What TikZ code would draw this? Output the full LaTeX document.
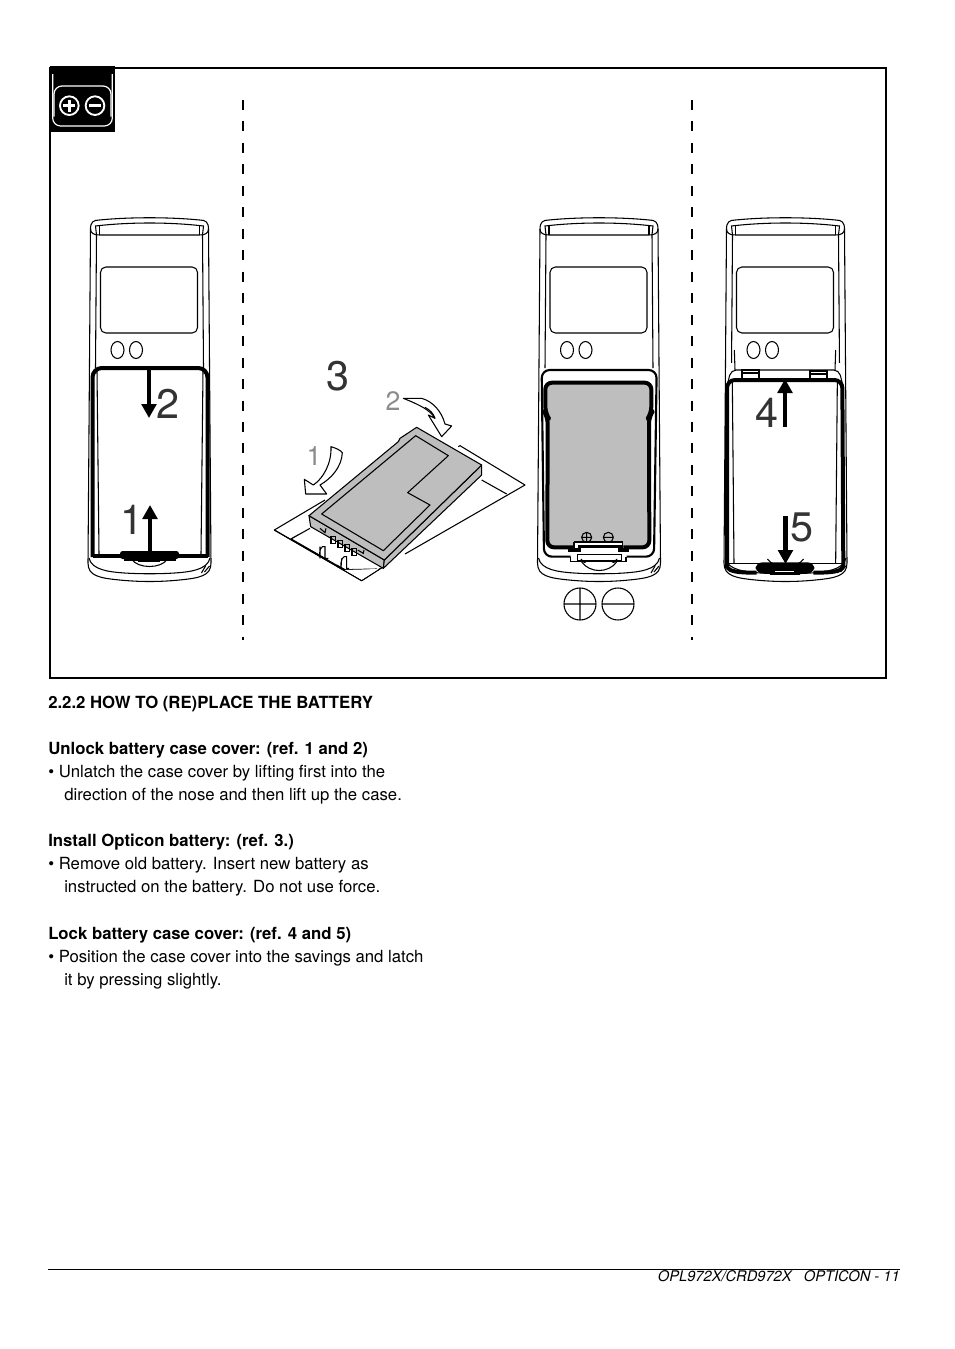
\documentclass[tikz,border=0pt]{standalone}
\usepackage{fontspec}
\setmainfont{TeX Gyre Heros}
\usetikzlibrary{arrows.meta}
\definecolor{colorgray}{HTML}{BEBEBE}
\definecolor{colordigit}{HTML}{333333}
\definecolor{colorlight}{HTML}{8C8C8C}
\tikzset{
  thin line/.style={line width=0.8pt},
  thick line/.style={line width=3pt,line join=round},
  zoomat/.style={shift={#1},scale=1/3},
  bigdigit/.style={font=\fontsize{31}{31}\selectfont,text=colordigit,inner sep=0pt},
  smalldigit/.style={font=\fontsize{20}{20}\selectfont,text=colorlight,inner sep=0pt},
  bodytext/.style={font=\fontsize{12.55}{15}\selectfont,anchor=base west,inner sep=0pt},
  boldtext/.style={font=\fontsize{12.55}{15}\selectfont\bfseries,anchor=base west,inner sep=0pt},
  dashline/.style={line width=1.9pt,dash pattern=on 7.5pt off 8.6pt},
  pusharrow/.style={line width=3.4pt,-{Triangle[length=10.5pt,width=11pt]}},
  scanner/.pic={
    % head
    \draw[thin line] (-59,229) .. controls (-59,222) and (-56,220) .. (-50,220)
      .. controls (-20,217) and (20,217) .. (50,220)
      .. controls (56,220) and (59,222) .. (59,229)
      .. controls (59,233) and (56,235) .. (50,235) -- (-50,235)
      .. controls (-56,235) and (-59,233) .. (-59,229);
    \draw[thin line] (-53,235) -- (-54,226) .. controls (-20,222) and (20,222) .. (54,226) -- (53,235);
    \draw[thin line] (-50,226) -- (-50,235) (50,226) -- (50,235);
    % sides
    \draw[thin line] (-59,229) -- (-61.5,563) .. controls (-61.5,576) and (-50,578) .. (-30,580)
      .. controls (-10,582) and (10,582) .. (30,580) .. controls (50,578) and (61.5,576) .. (61.5,563)
      -- (59,229);
    \draw[thin line] (-60.5,558) .. controls (-58,570) and (-40,572) .. (-25,573)
      .. controls (-10,574) and (10,574) .. (25,573) .. controls (40,572) and (58,570) .. (60.5,558);
    \draw[thin line] (-53,235) -- (-54,368) (53,235) -- (54,368);
    \draw[thin line] (55,572) -- (60,566) (52,573) -- (56,566);
    % display
    \draw[thin line,rounded corners=4pt] (-49,267) rectangle (48,333);
    \draw[thin line] (-32,350) ellipse (6.5 and 8.5);
    \draw[thin line] (-13.5,350) ellipse (6.5 and 8.5);
    % finger recess
    \draw[thin line] (-18,559) .. controls (-12,569) and (12,569) .. (18,559);
  }
}
\begin{document}
\begin{tikzpicture}[x=0.75pt,y=-0.75pt]
\useasboundingbox (0,0) rectangle (954,1349);
\fill[white] (0,0) rectangle (954,1349);
\draw[line width=1.9pt] (50,68) rectangle (886,678);
% icon
\begin{scope}[zoomat={(50,60)}]
  \fill[black] (0,18) rectangle (195,215);
  \draw[white,line width=0.9pt,rounded corners=6pt] (8,42) -- (8,198) -- (187,198) -- (187,42);
  \draw[white,line width=0.9pt,rounded corners=6pt] (12,170) -- (12,78) -- (183,78) -- (183,170);
  \draw[white,line width=1.4pt] (58,137) circle (28) (135,137) circle (28);
  \draw[white,line width=2.6pt] (40,137) -- (76,137) (58,119) -- (58,155) (117,137) -- (153,137);
\end{scope}
% dashes
\draw[dashline] (243,100) -- (243,640);
\draw[dashline] (692,100) -- (692,640);
% first scanner
\pic at (149.5,0) {scanner};
\draw[thick line,rounded corners=7pt] (92.5,557) -- (92.5,368) -- (207.5,368) -- (207.5,557);
\draw[thick line,line width=3.4pt] (92.5,556) -- (207.5,556);
\draw[thin line] (97,371) -- (99,554) (203,371) -- (201,554);
\fill[black,rounded corners=2pt] (120,551) rectangle (179,559);
\draw[line width=1.5pt] (124,560) -- (176,560);
\draw[thin line] (138,561) -- (160,561);
\draw[pusharrow] (149,370) -- (149,418);
\draw[pusharrow] (150,552) -- (150,505);
\node[bigdigit] (digit2) at (168,404) {2};
\node[bigdigit] (digit1) at (132,520) {1};
% battery
\node[bigdigit] (digit3) at (338,376) {3};
\begin{scope}[zoomat={(265,350)}]
  \draw[thin line,line join=round] (180,450) -- (28,540) -- (290,692) -- (355,650);
  \draw[thin line] (78,567) -- (135,535) (78,567) -- (340,660);
  \fill[white] (78,568) -- (290,690) -- (340,660) -- (132,530) -- cycle;
  \draw[thin line,line join=round] (28,540) -- (290,692) -- (355,650);
  \draw[thin line] (78,567) -- (135,535) (78,567) -- (185,628) (215,645) -- (240,659) (240,659) -- (335,657);
  \fill[white] (240,660) -- (340,657) -- (290,689) -- cycle;
  \draw[thin line] (78,567) -- (240,660);
  \draw[thin line,line join=round] (580,290) -- (585,287) -- (780,405) -- (420,612);
  \draw[thin line] (650,390) -- (725,432);
  \draw[fill=colorgray,thin line,line join=round] (132,497) -- (137,530) -- (355,655) -- (358,630) -- cycle;
  \draw[fill=colorgray,thin line,line join=round] (358,630) -- (355,655) -- (650,375) -- (650,345) -- cycle;
  \draw[fill=colorgray,thin line,line join=round] (132,497) -- (400,275) -- (405,265) -- (455,232) -- (650,345) -- (358,630) -- cycle;
  \draw[fill=colorgray,thin line,line join=round] (170,492) -- (452,257) -- (550,317) -- (428,428) -- (495,465) -- (355,602) -- cycle;
  \foreach \xi in {0,1,2,3}{
    \draw[thin line] ({198+\xi*21},{560+\xi*12}) rectangle ++(13,20);
  }
  \draw[thin line] (165,535) -- (180,548) -- (183,535) (278,600) -- (295,610) -- (297,600);
  \draw[thin line] (165,625) .. controls (160,600) and (170,585) .. (180,590) -- (180,625) -- (190,625) (165,590) -- (165,625);
  \draw[thin line] (228,655) .. controls (225,630) and (235,615) .. (245,620) -- (245,655) -- (252,655) (230,625) -- (228,655);
  % insertion arrows
  \draw[fill=white,thin line,line join=round] (198,290) .. controls (215,295) and (225,300) .. (232,308)
    .. controls (230,350) and (200,385) .. (165,405) -- (185,432) -- (122,432) -- (118,388) -- (145,405)
    .. controls (175,385) and (200,340) .. (198,290) -- cycle;
  \draw[fill=white,thin line,line join=round] (415,145) -- (470,145) .. controls (505,155) and (530,185) .. (540,222)
    -- (560,228) -- (530,260) -- (490,195) -- (510,205) .. controls (495,180) and (465,165) .. (415,145) -- cycle;
  \draw[thin line] (480,172) .. controls (495,180) and (505,190) .. (510,205);
\end{scope}
\node[smalldigit] (digit1b) at (314,456) {1};
\node[smalldigit] (digit2b) at (393,401) {2};
% second scanner
\pic at (599,0) {scanner};
\begin{scope}[zoomat={(530,360)}]
  \draw[line width=1.6pt,rounded corners=6pt,fill=white] (122,590) -- (42,590) -- (35,30) -- (380,30) -- (372,590) -- (290,590);
  \draw[fill=colorgray,thick line,rounded corners=5pt] (130,562) -- (52,562) -- (53,170) -- (46,160) -- (46,68) -- (364,68) -- (364,160) -- (357,170) -- (358,562) -- (280,562);
  \fill[white] (132,548) rectangle (278,572);
  \draw[thin line] (132,546) -- (278,546) (132,546) -- (132,575) (278,546) -- (278,575);
  \draw[line width=2.4pt] (115,570) -- (148,570) -- (148,560) -- (270,560) -- (270,570) -- (296,570);
  \draw[thin line] (122,590) -- (122,605) -- (288,605) -- (288,590) (142,583) rectangle (274,603);
  \fill[white] (155,608) rectangle (260,640);
  \draw[thin line] (155,606) .. controls (180,640) and (235,640) .. (260,606);
  \draw[thin line] (170,532) circle (15) (155,532) -- (185,532) (170,517) -- (170,547);
  \draw[thin line] (235,532) circle (15) (220,532) -- (250,532);
\end{scope}
\draw[thin line] (580,604) circle (16) (564,604) -- (596,604) (580,588) -- (580,620);
\draw[thin line] (618,604) circle (16) (602,604) -- (634,604);
% third scanner
\pic at (785.5,0) {scanner};
\begin{scope}[zoomat={(715,350)}]
  \fill[white] (45,40) rectangle (380,90);
  \draw[thin line] (58,0) -- (60,60) (362,0) -- (360,60);
  \draw[thin line,rounded corners=4pt] (38,100) -- (48,60) -- (372,60) -- (382,100);
  \draw[line width=1.6pt] (80,85) -- (80,60) -- (132,60) -- (132,85) (80,70) -- (132,70);
  \draw[line width=1.6pt] (285,85) -- (285,63) -- (335,63) -- (335,85) (285,73) -- (335,73);
  \draw[thick line,rounded corners=6pt] (36,655) -- (36,90) -- (382,90) -- (385,655);
  \draw[thick line] (36,652) .. controls (45,665) and (70,668) .. (125,668) (295,668) .. controls (350,668) and (375,665) .. (385,652);
  \draw[thin line] (52,97) -- (57,640) (367,97) -- (362,640);
  \draw[thin line] (40,640) -- (380,640);
  \fill[black,rounded corners=5pt] (122,637) rectangle (298,670);
  \fill[black] (165,668) rectangle (255,676);
  \draw[white,line width=0.8pt] (180,664) -- (238,664);
\end{scope}
\draw[pusharrow] (785,427) -- (785,379);
\draw[pusharrow] (785.5,516) -- (785.5,564);
\node[bigdigit] (digit4) at (767,413) {4};
\node[bigdigit] (digit5) at (802,527) {5};
% text
\node[boldtext] (title) at (48,708) {2.2.2 HOW TO (RE)PLACE THE BATTERY};
\node[boldtext] (unlockhead) at (48,754) {Unlock battery case cover: (ref. 1 and 2)};
\node[bodytext] (unlocka) at (48,777) {• Unlatch the case cover by lifting first into the};
\node[bodytext] (unlockb) at (64,800) {direction of the nose and then lift up the case.};
\node[boldtext] (installhead) at (48,846) {Install Opticon battery: (ref. 3.)};
\node[bodytext] (installa) at (48,869) {• Remove old battery. Insert new battery as};
\node[bodytext] (installb) at (64,892) {instructed on the battery. Do not use force.};
\node[boldtext] (lockhead) at (48,939) {Lock battery case cover: (ref. 4 and 5)};
\node[bodytext] (locka) at (48,962) {• Position the case cover into the savings and latch};
\node[bodytext] (lockb) at (64,985) {it by pressing slightly.};
% footer
\draw[line width=0.6pt] (48,1269) -- (900,1269);
\node[font=\fontsize{11}{13}\selectfont\itshape,anchor=base east,inner sep=0pt] (footer) at (900,1281) {OPL972X/CRD972X\ \ \ OPTICON - 11};
\end{tikzpicture}
\end{document}
